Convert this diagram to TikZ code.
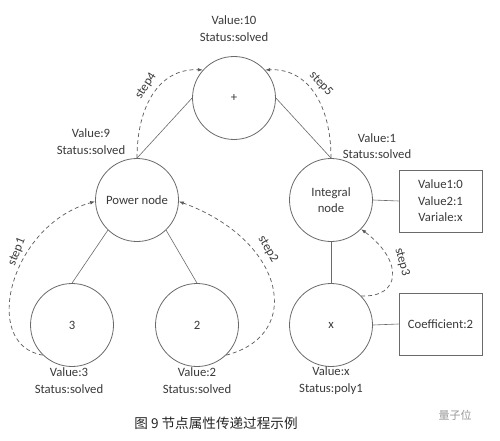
\documentclass[tikz,border=0pt]{standalone}
\usepackage{fontspec}
\setmainfont{Carlito}
\newfontfamily\cjk{Noto Sans CJK SC}
\usetikzlibrary{arrows.meta}
\definecolor{linec}{HTML}{6A6A6A}
\definecolor{txt}{HTML}{3A3A3A}
\begin{document}
\begin{tikzpicture}[x=1pt,y=-1pt,
  fs/.style={font=\fontsize{12.7}{16.5}\selectfont},
  circ/.style={circle,draw=linec,line width=0.8pt,minimum size=83pt,inner sep=0pt,align=center,fs,text=txt},
  infobox/.style={rectangle,draw=linec,line width=0.8pt,minimum width=83pt,minimum height=62pt,inner sep=0pt,align=center,fs,text=txt},
  lab/.style={align=center,fs,text=txt,inner sep=0pt},
  conn/.style={draw=linec,line width=0.6pt},
  stepline/.style={draw=linec!85!black,line width=0.7pt,dash pattern=on 4pt off 3pt,-{Latex[length=5pt,width=3.6pt]}},
  steplab/.style={fs,text=txt,inner sep=0pt}]
\useasboundingbox (0,0) rectangle (500,441);
\fill[white] (0,0) rectangle (500,441);
% nodes
\node[circ] (plus) at (234,98) {+};
\node[circ] (pow) at (137,200) {Power node};
\node[circ] (int) at (331,200) {Integral\\node};
\node[circ] (n3) at (72,325) {3};
\node[circ] (n2) at (197,325) {2};
\node[circ] (nx) at (331,325) {x};
\node[infobox] (b1) at (440.5,201) {Value1:0\\Value2:1\\Variale:x};
\node[infobox] (b2) at (440.5,324) {Coefficient:2};
% connectors
\draw[conn] (plus.west) -- (pow.north);
\draw[conn] (plus.east) -- (int.north);
\draw[conn] (pow.226) -- (n3.north);
\draw[conn] (pow.314) -- (n2.north);
\draw[conn] (int.south) -- (nx.north);
\draw[conn] (int.east) -- (b1.west);
\draw[conn] (nx.east) -- (b2.west);
% labels
\node[lab] (l10) at (234,28.5) {Value:10\\Status:solved};
\node[lab] (l9) at (91,141.5) {Value:9\\Status:solved};
\node[lab] (l1) at (377,146) {Value:1\\Status:solved};
\node[lab] (l3) at (69,380.5) {Value:3\\Status:solved};
\node[lab] (l2) at (197,380.5) {Value:2\\Status:solved};
\node[lab] (lx) at (331,380.5) {Value:x\\Status:poly1};
% step arrows
\coordinate (s4a) at (137,158);
\coordinate (s5a) at (331,158);
\draw[stepline] (s4a) .. controls (137,105) and (160,68) .. (plus.138);
\draw[stepline] (s5a) .. controls (331,105) and (308,68) .. (plus.42);
\draw[stepline] (n3.226) .. controls (-20,345) and (10,225) .. (pow.182);
\draw[stepline] (n2.314) .. controls (305,335) and (285,240) .. (pow.-2);
\draw[stepline] (nx.44) .. controls (400,298) and (405,262) .. (int.316);
\node[steplab,rotate=57] (t4) at (146,86) {step4};
\node[steplab,rotate=-48] (t5) at (321,84) {step5};
\node[steplab,rotate=68] (t1) at (17,252) {step1};
\node[steplab,rotate=-60] (t2) at (268,249) {step2};
\node[steplab,rotate=-75] (t3) at (402,262) {step3};
% caption
\node[inner sep=0pt,text=black!85] (cap) at (216,423) {\cjk\fontsize{13.6}{16}\selectfont 图 9 节点属性传递过程示例};
\node[inner sep=0pt,text=black!40] (wm) at (455,415) {\cjk\fontsize{11}{13}\selectfont 量子位};
\end{tikzpicture}
\end{document}
